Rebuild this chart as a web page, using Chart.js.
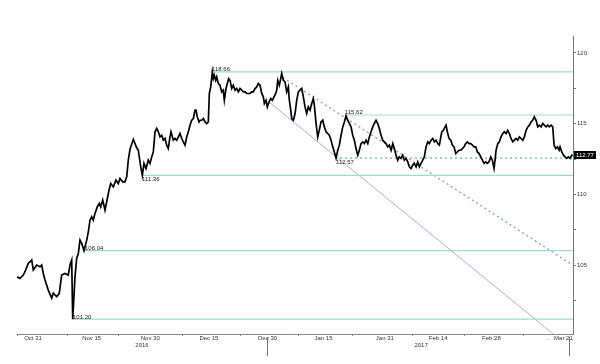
<!DOCTYPE html>
<html><head><meta charset="utf-8">
<script src="https://cdn.jsdelivr.net/npm/chart.js@4.4.1/dist/chart.umd.min.js"></script>
<style>html,body{margin:0;padding:0;background:#fff;}</style>
</head><body>
<canvas id="c" width="600" height="364"></canvas>
<script>
// time axis: trading days since Oct 31 2016
const t = [
-2.95,-2.44,-1.82,-1.50,-0.88,-0.24,0.06,0.69,1.31,1.63,
1.93,2.25,2.87,3.51,3.81,4.45,4.93,5.38,6.00,6.62,
6.94,7.26,7.45,7.88,8.20,8.50,8.82,9.14,9.57,10.08,
10.38,10.69,11.01,11.31,11.63,12.06,12.44,12.70,13.08,13.51,
13.83,14.26,14.58,15.07,15.57,16.00,16.32,16.83,17.26,17.58,
17.88,18.20,18.82,19.46,19.76,20.21,20.51,20.82,21.20,21.63,
21.95,22.27,22.57,22.89,23.21,23.51,23.83,24.15,24.45,24.77,
25.08,25.38,25.70,25.89,26.32,26.64,26.96,27.58,27.90,28.20,
28.52,28.84,29.14,29.46,29.77,30.08,30.39,30.58,30.83,31.14,
31.33,31.65,31.95,32.27,32.59,32.89,33.08,33.34,33.64,33.83,
34.01,34.28,34.47,34.77,35.08,35.40,35.70,35.89,36.21,36.45,
36.71,36.96,37.28,37.58,37.90,38.22,38.52,38.84,39.16,39.47,
39.77,40.09,40.39,40.71,41.03,41.33,41.65,41.97,42.27,42.59,
42.91,43.21,43.40,43.71,43.96,44.28,44.60,44.90,45.22,45.53,
45.72,45.91,46.21,46.47,46.66,46.96,47.28,47.60,47.90,48.09,
48.35,48.54,48.84,49.16,49.47,49.77,50.09,50.41,50.72,51.03,
51.35,51.65,51.97,52.29,52.59,52.78,53.10,53.41,53.71,54.03,
54.35,54.65,54.97,55.29,55.59,55.91,56.23,56.53,56.85,57.17,
57.47,57.79,58.11,58.41,58.72,59.04,59.34,59.66,59.98,60.28,
60.60,60.92,61.22,61.54,61.86,62.16,62.48,62.80,63.10,63.41,
63.73,64.03,64.35,64.67,64.97,65.29,65.61,65.91,66.23,66.55,
66.85,67.17,67.49,67.79,68.11,68.42,68.72,69.04,69.36,69.66,
69.98,70.30,70.60,70.92,71.24,71.54,71.86,72.18,72.48,72.80,
73.11,73.41,73.73,74.05,74.35,74.67,74.99,75.29,75.61,75.93,
76.23,76.68,76.98,77.30,77.49,77.73,78.05,78.37,78.67,78.99,
79.31,79.61,79.92,80.24,80.54,80.86,81.18,81.48,81.80,82.12,
82.42,82.74,83.06,83.36,83.68,84.00,84.30,84.62,84.93,85.23,
85.55,85.87,86.17,86.49,86.68,86.87,87.19,87.49,87.80,88.12,
88.42,88.74,89.06,89.36,89.68,90.00,90.30,90.62,90.94,91.24,
91.56,91.88,92.18,92.50,92.82,93.12,93.43,93.75,94.05,94.37,
94.69,94.99,95.31,95.63,95.93,96.25,96.57,96.87,97.19,97.50,
97.75,98.07,98.37,98.69,98.87,99.19,99.50,99.81,100.13,100.43,
100.75,101.07,101.26
];
// USD/JPY price
const px = [
104.19,104.08,104.31,104.55,105.14,105.37,104.67,105.02,104.90,105.02,
104.43,103.96,103.25,102.69,103.04,102.78,103.02,104.31,104.43,104.31,
105.02,105.37,101.20,104.19,105.51,105.84,106.78,106.55,106.04,106.78,
107.37,108.19,108.43,108.19,108.67,109.13,109.37,109.13,109.61,108.90,
109.49,110.31,110.78,110.54,111.02,110.78,111.14,110.90,110.90,111.25,
112.43,113.20,113.90,113.30,113.13,111.96,111.36,112.20,111.84,112.43,
112.20,112.66,113.01,114.43,114.67,114.43,114.07,114.19,113.84,113.96,
113.49,113.25,114.07,114.43,113.84,113.96,113.84,114.31,113.96,113.72,
113.49,114.07,114.43,114.90,115.25,115.37,115.96,115.96,115.48,115.13,
115.25,115.25,115.37,115.13,115.02,115.13,117.14,117.60,118.66,118.19,
118.43,118.07,118.31,117.84,117.72,117.25,117.37,116.66,117.49,117.84,
118.19,118.07,117.49,117.72,117.37,117.49,117.25,117.49,117.37,117.25,
117.25,117.14,117.14,117.14,117.25,117.25,117.49,117.60,117.84,117.72,
117.14,116.90,116.43,116.66,116.19,116.54,116.78,116.66,116.90,117.14,
117.37,118.07,117.72,118.19,118.55,118.07,117.95,117.25,117.60,116.66,
115.96,115.37,115.25,115.72,116.66,117.25,117.37,117.49,116.90,116.19,
115.72,116.19,115.96,116.43,116.78,116.31,115.02,114.07,114.55,115.13,
115.25,114.78,114.43,114.31,114.19,113.84,113.37,113.01,112.57,113.13,
113.49,114.19,114.78,115.13,115.55,115.25,115.02,114.78,114.19,113.84,
113.25,112.78,113.13,113.60,113.72,113.60,113.84,113.60,114.07,114.43,
114.78,115.02,115.25,115.02,114.67,114.19,113.84,113.72,113.60,113.37,
113.49,113.13,113.60,113.25,112.78,112.43,112.66,112.55,112.78,112.43,
112.55,112.31,111.96,111.84,112.08,112.20,111.96,112.31,111.96,112.20,
112.43,112.66,113.37,113.72,113.60,113.84,113.96,113.72,113.84,113.60,
113.49,114.43,114.54,114.78,114.90,114.43,113.96,113.84,113.49,113.37,
112.90,113.01,113.13,113.13,113.25,113.37,113.60,113.72,113.60,113.60,
113.49,113.37,113.37,113.01,112.90,112.66,112.43,112.20,112.31,112.20,
112.31,112.66,112.43,111.84,112.43,113.13,113.60,113.72,114.07,114.31,
114.43,114.31,114.54,114.31,113.96,113.72,113.84,113.96,113.84,114.07,
113.96,113.84,114.07,114.54,114.78,114.90,115.13,115.25,115.48,115.25,
114.78,114.90,114.78,115.02,114.90,114.78,114.90,114.78,114.90,114.78,
113.49,113.25,113.37,113.13,113.37,113.01,112.78,112.66,112.55,112.66,
112.55,112.78,112.77
];
const levelValues   = [118.66, 115.62, 112.57, 111.36, 106.04, 101.20];
const levelStart    = [33.6, 58.5, 57.6, 20.45, 9.75, 7.5];
const levelLabelAt  = [33.6, 58.5, 56.85, 20.45, 9.75, 7.5];
const levelLabelBelow = [false, false, true, true, false, false];
const levelDotted   = [false, false, true, false, false, false];
const supportLine = [[44.1, 116.59], [97.6, 100.15]];
const resistLine  = [[46.9, 118.27], [101.3, 105.0]];
const lastPrice = 112.77;
const xLabelPos  = [0, 11, 22, 33, 44, 54.5, 66, 76, 86, 96.6, 99.5];
const xLabelText = ['Oct 31','Nov 15','Nov 30','Dec 15','Dec 30','Jan 15','Jan 31','Feb 14','Feb 28','..','Mar 21'];
const yearPos  = [20.45, 72.8];
const yearText = ['2016', '2017'];
const minorXTicks = [-3, 6.4, 16.1, 28.1, 39, 49.9, 60, 71.1, 80.9, 92];
const yearBreaks = [43.9, 100.6];
const yTicks = [102.5, 105, 107.5, 110, 112.5, 115, 117.5, 120];
const X_MIN = -3, X_MAX = 101.3, Y_MIN = 100.15, Y_MAX = 121.2;

const FONT = 'Liberation Sans';
const labelMap = new Map();
xLabelPos.forEach((p, i) => labelMap.set(p, xLabelText[i]));
yearPos.forEach((p, i) => labelMap.set(p, ['', yearText[i]]));
const minorSet = new Set(minorXTicks);
const allXTicks = [...new Set([...minorXTicks, ...xLabelPos, ...yearPos, X_MAX])].sort((a, b) => a - b);

const datasets = [{
  data: t.map((x, i) => ({x, y: px[i]})),
  borderColor: '#000', borderWidth: 1.7, pointRadius: 0, tension: 0
}];
levelValues.forEach((v, i) => datasets.push({
  data: [{x: levelStart[i], y: v}, {x: X_MAX, y: v}],
  borderColor: levelDotted[i] ? '#7fd3ab' : '#9fdcc4',
  borderWidth: levelDotted[i] ? 1.6 : 1.2,
  borderDash: levelDotted[i] ? [2, 3] : [],
  pointRadius: 0
}));
datasets.push({
  data: supportLine.map(p => ({x: p[0], y: p[1]})),
  borderColor: '#a9a9e8', borderWidth: 1, pointRadius: 0
});
datasets.push({
  data: resistLine.map(p => ({x: p[0], y: p[1]})),
  borderColor: '#7e8edc', borderWidth: 1.2, borderDash: [2, 3], pointRadius: 0
});

const annot = {
  id: 'annot',
  afterDatasetsDraw(chart) {
    const {ctx, scales: {x, y}} = chart;
    ctx.save();
    ctx.font = '6px "' + FONT + '"';
    ctx.textAlign = 'left';
    ctx.textBaseline = 'alphabetic';
    ctx.fillStyle = '#222';
    levelValues.forEach((v, i) => {
      const lx = x.getPixelForValue(levelLabelAt[i]);
      const ly = y.getPixelForValue(v);
      ctx.fillText(v.toFixed(2), lx, levelLabelBelow[i] ? ly + 6 : ly - 0.5);
    });
    const ly = y.getPixelForValue(lastPrice);
    const bx = x.right + 1;
    ctx.fillStyle = '#000';
    ctx.fillRect(bx, Math.round(ly) - 4, 22, 8);
    ctx.fillStyle = '#fff';
    ctx.fillText(lastPrice.toFixed(2), bx + 2, Math.round(ly) + 2);
    ctx.strokeStyle = '#777';
    ctx.lineWidth = 1;
    yearBreaks.forEach(v => {
      const xx = Math.round(x.getPixelForValue(v)) + 0.5;
      ctx.beginPath(); ctx.moveTo(xx, x.top + 3); ctx.lineTo(xx, x.top + 22); ctx.stroke();
    });
    ctx.restore();
  }
};

new Chart(document.getElementById('c'), {
  type: 'line',
  data: {datasets},
  options: {
    responsive: false, animation: false, devicePixelRatio: 1,
    parsing: true,
    layout: {padding: {left: 17, top: 36, right: 0, bottom: 0}},
    plugins: {legend: {display: false}, tooltip: {enabled: false}},
    scales: {
      x: {
        type: 'linear', min: X_MIN, max: X_MAX,
        afterFit: s => { s.height = 30; },
        afterBuildTicks: s => { s.ticks = allXTicks.map(v => ({value: v})); },
        ticks: {
          autoSkip: false, maxRotation: 0, minRotation: 0, padding: -1,
          font: {family: FONT, size: 6, lineHeight: 1.1}, color: '#333',
          callback: v => labelMap.has(v) ? labelMap.get(v) : ''
        },
        grid: {
          display: true, drawOnChartArea: false, drawTicks: true, tickLength: 2,
          tickColor: c => (c.tick && minorSet.has(c.tick.value)) ? '#888' : 'rgba(0,0,0,0)'
        },
        border: {display: true, color: '#888', width: 1}
      },
      y: {
        type: 'linear', position: 'right', min: Y_MIN, max: Y_MAX,
        afterFit: s => { s.width = 27; },
        afterBuildTicks: s => { s.ticks = yTicks.map(v => ({value: v})); },
        ticks: {
          padding: 1, font: {family: FONT, size: 6}, color: '#333',
          callback: v => (v % 5 === 0) ? String(v) : ''
        },
        grid: {display: true, drawOnChartArea: false, drawTicks: true, tickLength: 3, tickColor: '#777'},
        border: {display: true, color: '#777', width: 1}
      }
    }
  },
  plugins: [annot]
});
</script>
</body></html>
